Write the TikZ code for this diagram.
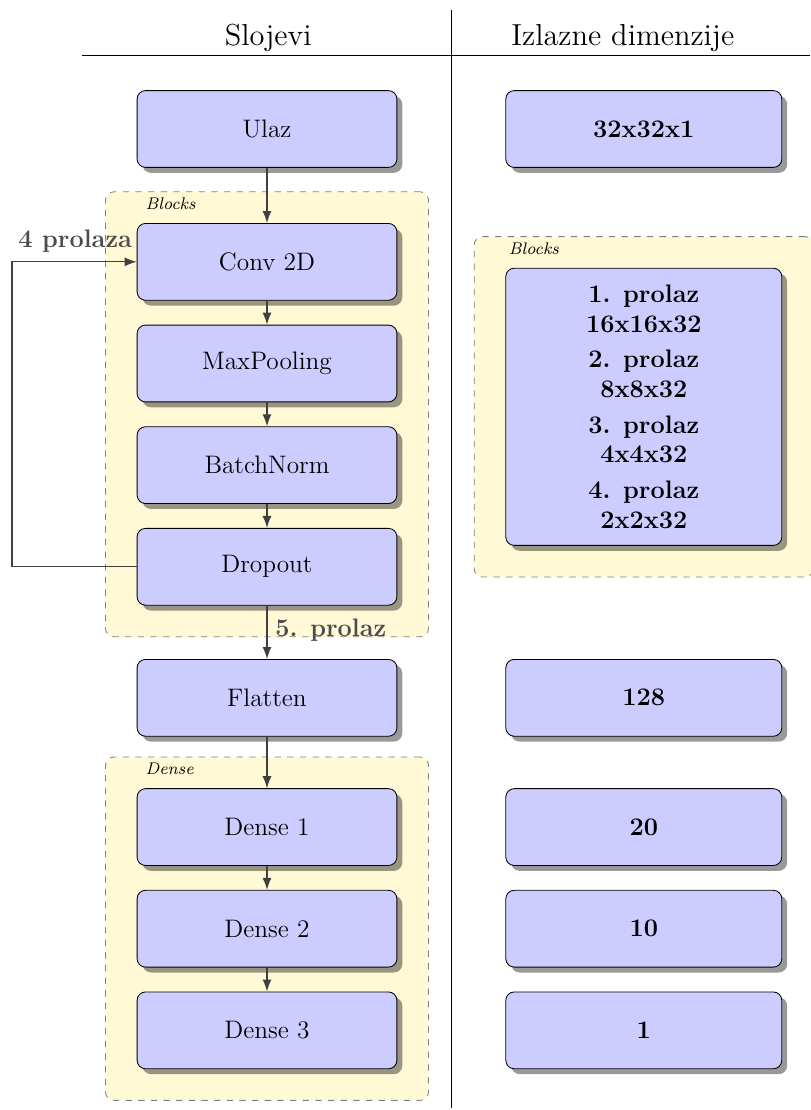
\documentclass[tikz,border=0pt]{standalone}
\usepackage{amsmath}
\usepackage{tikz}
\usetikzlibrary{positioning,fit,shadows,backgrounds,arrows.meta}
\definecolor{groupfill}{RGB}{255,249,214}

\begin{document}
\begin{tikzpicture}[
        layer/.style={draw, fill=blue!20, rounded corners=4pt, minimum width=4.33cm, minimum height=1.28cm, font=\large,
            drop shadow={fill=black, opacity=0.4, shadow xshift=0.09cm, shadow yshift=-0.09cm}},
        outdim/.style={layer, minimum width=4.6cm, font=\large\bfseries, align=center},
        group/.style={draw=black!50, dashed, fill=groupfill, rounded corners=4pt, inner sep=0.52cm},
        grouplabel/.style={font=\footnotesize\itshape, anchor=north west, inner sep=0pt},
        flow/.style={draw=black!75, semithick, -{Latex[length=2mm,width=1.5mm]}},
        passlabel/.style={font=\large\bfseries, text=black!70},
        node distance=0.4cm
    ]
    \useasboundingbox (0,0) rectangle (13.5,-18.5);
    \node (slojevi) at (4.47,-0.63) {\Large Slojevi};
    \node (izlazne) at (10.38,-0.63) {\Large Izlazne dimenzije};
    \draw (1.37,-0.92) -- (13.5,-0.92);
    \draw (7.53,-0.17) -- (7.53,-18.47);

    \node[layer] (ulaz) at (4.45,-2.15) {Ulaz};
    \node[layer, below=0.92cm of ulaz] (conv) {Conv 2D};
    \node[layer, below=of conv] (maxpool) {MaxPooling};
    \node[layer, below=of maxpool] (batchnorm) {BatchNorm};
    \node[layer, below=of batchnorm] (dropout) {Dropout};
    \node[layer, below=0.89cm of dropout] (flatten) {Flatten};
    \node[layer, below=0.86cm of flatten] (dense1) {Dense 1};
    \node[layer, below=of dense1] (dense2) {Dense 2};
    \node[layer, below=of dense2] (dense3) {Dense 3};

    \node[outdim] (outulaz) at (10.73,-2.15) {32x32x1};
    \node[outdim, minimum height=4.62cm] (outblocks) at (10.73,-6.78) {1. prolaz\\16x16x32\\[3pt]2. prolaz\\8x8x32\\[3pt]3. prolaz\\4x4x32\\[3pt]4. prolaz\\2x2x32};
    \node[outdim] (outflatten) at (flatten -| outulaz) {128};
    \node[outdim] (outdense1) at (dense1 -| outulaz) {20};
    \node[outdim] (outdense2) at (dense2 -| outulaz) {10};
    \node[outdim] (outdense3) at (dense3 -| outulaz) {1};

    \begin{scope}[on background layer]
        \node[group, fit=(conv)(dropout)] (blocks) {};
        \node[group, fit=(dense1)(dense3)] (dense) {};
        \node[group, fit=(outblocks)] (outgroup) {};
    \end{scope}
    \node[grouplabel] (blockslabel) at ([xshift=0.67cm,yshift=-0.1cm]blocks.north west) {Blocks};
    \node[grouplabel] (denselabel) at ([xshift=0.67cm,yshift=-0.1cm]dense.north west) {Dense};
    \node[grouplabel] (outgrouplabel) at ([xshift=0.58cm,yshift=-0.1cm]outgroup.north west) {Blocks};

    \draw[flow] (ulaz) -- (conv);
    \draw[flow] (conv) -- (maxpool);
    \draw[flow] (maxpool) -- (batchnorm);
    \draw[flow] (batchnorm) -- (dropout);
    \draw[flow] (dropout) -- (flatten) node[passlabel, midway, anchor=west, inner sep=0.13cm, yshift=0.04cm] (pass5) {5. prolaz};
    \draw[flow] (flatten) -- (dense1);
    \draw[flow] (dense1) -- (dense2);
    \draw[flow] (dense2) -- (dense3);
    \draw[flow] (dropout.west) -- ++(-2.08,0) |- (conv.west);
    \node[passlabel, anchor=south east, inner sep=2pt, yshift=0.08cm] (pass4) at (conv.west) {4 prolaza};
\end{tikzpicture}
\end{document}
